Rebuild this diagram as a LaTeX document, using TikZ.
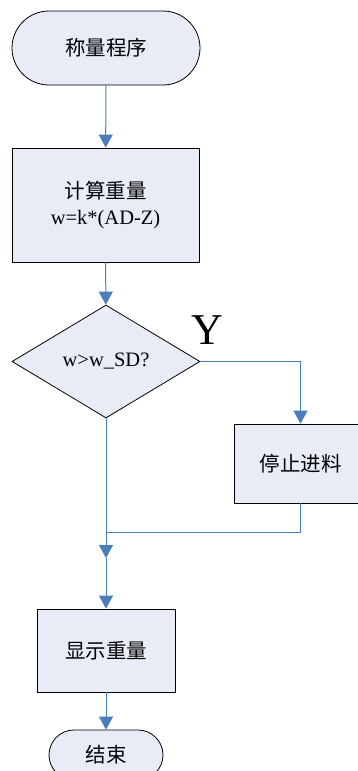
\documentclass[tikz,border=0pt]{standalone}
\usepackage{fontspec}
\setmainfont{Liberation Serif}
\newfontfamily\cjk{Noto Sans CJK SC}
\usetikzlibrary{arrows.meta,shapes.geometric}
\definecolor{boxfill}{HTML}{E7ECF6}
\definecolor{linkblue}{HTML}{4A7EBB}

\begin{document}
\begin{tikzpicture}[x=1pt,y=-1pt,
  base/.style={draw=black, line width=0.8pt, fill=boxfill, inner sep=0pt,
               font=\fontsize{20.5}{25}\selectfont, align=center},
  terminal/.style={base, rectangle},
  proc/.style={base, rectangle},
  decision/.style={base, diamond},
  wire/.style={draw=linkblue, line width=1pt},
  link/.style={wire, -{Triangle[length=13pt,width=14pt]}},
]
% page frame
\clip (0,0) rectangle (358,771);
\fill[white] (0,0) rectangle (358,771);

% blocks
\node[terminal, minimum width=188pt, minimum height=74pt, rounded corners=37pt]
  (start) at (106,48) {\cjk 称量程序};
\node[proc, minimum width=187pt, minimum height=114pt]
  (calc) at (105.5,205) {\cjk 计算重量\\[1pt]w=k*(AD-Z)};
\node[decision, minimum width=188pt, minimum height=113pt]
  (test) at (106,361.5) {w>w\_SD?};
\node[proc, minimum width=133pt, minimum height=79pt]
  (stop) at (300.5,463.5) {\cjk 停止进料};
\node[proc, minimum width=138pt, minimum height=83pt]
  (show) at (106,650.5) {\cjk 显示重量};
\node[terminal, minimum width=114pt, minimum height=50pt, rounded corners=25pt]
  (end) at (106,755) {\cjk 结束};
\node[font=\fontsize{44}{44}\selectfont, inner sep=0pt] (yes) at (207,330) {Y};

% connectors
\coordinate (join) at (106,532);
\coordinate (mid) at (106,558);
\draw[link] (start) -- (calc);
\draw[link] (calc) -- (test);
\draw[link] (test.east) -| (stop.north);
\draw[wire] (stop.south) |- (join);
\draw[link] (test.south) -- (mid);
\draw[link] (mid) -- (show.north);
\draw[link] (show) -- (end);
\end{tikzpicture}
\end{document}
